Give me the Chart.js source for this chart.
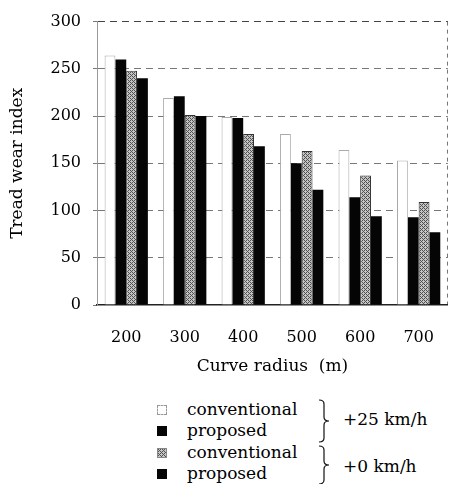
<!DOCTYPE html>
<html>
<head>
<meta charset="utf-8">
<script src="https://cdn.jsdelivr.net/npm/chart.js@4"></script>
<style>
  html, body { margin: 0; padding: 0; background: #fff; }
  #wrap { position: relative; width: 457px; height: 484px; font-family: "DejaVu Serif", serif; color: #000; }
  #chart-box { position: absolute; left: 0; top: 0; width: 457px; height: 390px; }
  .legend-text { position: absolute; font-size: 17px; line-height: 20px; white-space: pre; }
  .swatch { position: absolute; width: 10px; height: 10px; box-sizing: border-box; }
  .brace { position: absolute; }
</style>
</head>
<body>
<div id="wrap">
  <div id="chart-box"><canvas id="chart"></canvas></div>
  <div id="legend"></div>
</div>
<script>
// curve radius (m)
const radii = ['200', '300', '400', '500', '600', '700'];
const seriesNames = ['conventional', 'proposed', 'conventional', 'proposed'];
const speedGroups = ['+25 km/h', '+0 km/h'];

// tread wear index
const conv25 = [264, 219, 199, 181, 164, 153];
const prop25 = [260, 221, 198, 150, 114, 93];
const conv0 = [248, 201, 181, 163, 137, 109];
const prop0 = [240, 200, 168, 122, 94, 77];

const yTicks = [0, 50, 100, 150, 200, 250, 300];

// dithered gray fill, like the halftone in the print
function makeScreen() {
  const bayer = [[0, 8, 2, 10], [12, 4, 14, 6], [3, 11, 1, 9], [15, 7, 13, 5]];
  const c = document.createElement('canvas');
  c.width = 4; c.height = 4;
  const g = c.getContext('2d');
  g.fillStyle = '#c4c4c4';
  g.fillRect(0, 0, 4, 4);
  g.fillStyle = '#505050';
  bayer.forEach((row, y) => row.forEach((v, x) => {
    if (v < 6) g.fillRect(x, y, 1, 1);
  }));
  return { pattern: g.createPattern(c, 'repeat'), url: c.toDataURL() };
}

const ctx = document.getElementById('chart');
const screen = makeScreen();
const tickFont = { family: '"DejaVu Serif", serif', size: 16 };
const titleFont = { family: '"DejaVu Serif", serif', size: 17 };

new Chart(ctx, {
  type: 'bar',
  data: {
    labels: radii,
    datasets: [
      { label: seriesNames[0], data: conv25, backgroundColor: '#fff', borderColor: '#aaa', borderWidth: 1 },
      { label: seriesNames[1], data: prop25, backgroundColor: '#050505', borderWidth: 0 },
      { label: seriesNames[2], data: conv0, backgroundColor: screen.pattern, borderColor: '#333', borderWidth: 1 },
      { label: seriesNames[3], data: prop0, backgroundColor: '#050505', borderWidth: 0 }
    ]
  },
  options: {
    responsive: true,
    maintainAspectRatio: false,
    animation: false,
    layout: { padding: { top: 20, right: 1, bottom: 0, left: 0 } },
    datasets: { bar: { categoryPercentage: 0.74, barPercentage: 1.0 } },
    plugins: { legend: { display: false }, tooltip: { enabled: false } },
    scales: {
      x: {
        grid: {
          offset: true,
          drawTicks: false,
          color: c => c.type === 'tick' ? 'transparent' : '#777'
        },
        border: { display: true, color: '#222', width: 1.5, dash: [4, 4] },
        ticks: { color: '#000', font: tickFont, padding: 23 },
        title: { display: true, text: 'Curve radius  (m)', color: '#000', font: titleFont, padding: { top: 13, bottom: 13 } },
        afterFit: s => { s.height = 85; }
      },
      y: {
        min: 0,
        max: 300,
        afterBuildTicks: s => { s.ticks = yTicks.map(v => ({ value: v })); },
        grid: {
          color: c => c.tick && c.tick.value === 0 ? 'transparent' : (c.tick && c.tick.value === 300 ? '#444' : '#777'),
          tickLength: 4,
          tickColor: '#777',
          tickBorderDash: []
        },
        border: { display: true, color: '#999', width: 1, dash: [7, 5] },
        ticks: { color: '#000', font: tickFont, padding: 12 },
        title: { display: true, text: 'Tread wear index', color: '#000', font: titleFont, padding: { top: 7, bottom: 7 } },
        afterFit: s => { s.width = 97; }
      }
    }
  }
});

// legend with braces grouping the speed cases
const legend = document.getElementById('legend');
const rowTops = [399, 420, 442, 463];
const swatchStyles = [
  'background:#fff;border:1px dashed #999;',
  'background:#050505;',
  `background:url(${screen.url}) repeat;border:1px solid #888;`,
  'background:#050505;'
];
seriesNames.forEach((name, i) => {
  const sw = document.createElement('div');
  sw.className = 'swatch';
  sw.style.cssText = swatchStyles[i] + `left:157px;top:${rowTops[i] + 6}px;`;
  legend.appendChild(sw);
  const t = document.createElement('div');
  t.className = 'legend-text';
  t.style.left = '187px';
  t.style.top = rowTops[i] + 'px';
  t.textContent = name;
  legend.appendChild(t);
});

function brace(top, h) {
  const m = h / 2;
  const ns = 'http://www.w3.org/2000/svg';
  const svg = document.createElementNS(ns, 'svg');
  svg.setAttribute('class', 'brace');
  svg.setAttribute('width', 14);
  svg.setAttribute('height', h + 2);
  svg.style.left = '318px';
  svg.style.top = top + 'px';
  const p = document.createElementNS(ns, 'path');
  p.setAttribute('d', `M1,1 Q6,1 6,5 L6,${m - 3} Q6,${m + 1} 11,${m + 1} Q6,${m + 1} 6,${m + 5} L6,${h - 3} Q6,${h + 1} 1,${h + 1}`);
  p.setAttribute('fill', 'none');
  p.setAttribute('stroke', '#111');
  p.setAttribute('stroke-width', '1.2');
  svg.appendChild(p);
  legend.appendChild(svg);
}
brace(399, 42);
brace(445, 38);

[409, 456].forEach((top, i) => {
  const t = document.createElement('div');
  t.className = 'legend-text';
  t.style.left = '343px';
  t.style.top = top + 'px';
  t.textContent = speedGroups[i];
  legend.appendChild(t);
});
</script>
</body>
</html>
